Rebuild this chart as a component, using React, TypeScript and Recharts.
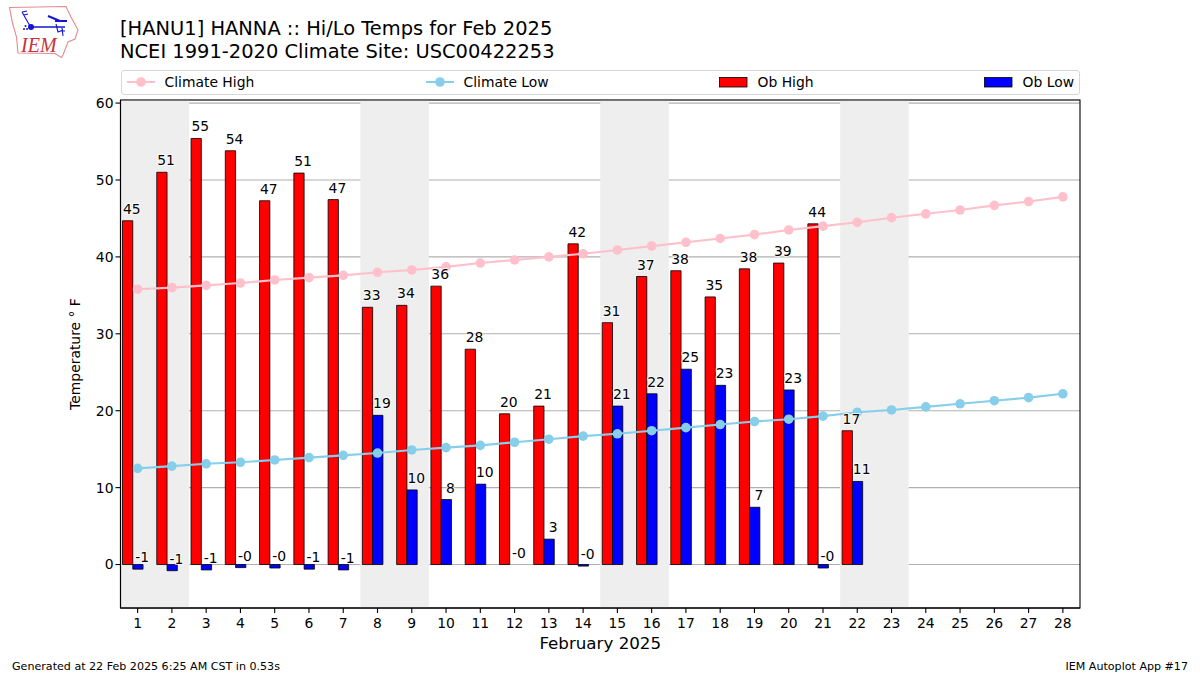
import React from "react";
import {
  ComposedChart, Bar, Line, XAxis, YAxis, CartesianGrid, ReferenceArea, LabelList, Rectangle, Label,
} from "recharts";

const FONT = "'DejaVu Sans', sans-serif";

const days = ["1","2","3","4","5","6","7","8","9","10","11","12","13","14","15","16","17","18","19","20","21","22","23","24","25","26","27","28"];
const climateHigh = [35.8,36.0,36.3,36.6,37.0,37.3,37.6,38.0,38.3,38.7,39.2,39.6,40.0,40.4,40.9,41.4,41.9,42.4,42.9,43.5,44.0,44.5,45.1,45.6,46.1,46.7,47.2,47.8];
const climateLow = [12.5,12.8,13.1,13.3,13.6,13.9,14.2,14.5,14.9,15.2,15.5,15.9,16.3,16.7,17.0,17.4,17.8,18.2,18.6,18.9,19.3,19.8,20.1,20.5,20.9,21.3,21.7,22.2];
const obHigh = [44.7,51.0,55.4,53.8,47.3,50.9,47.45,33.45,33.7,36.2,28.0,19.6,20.6,41.7,31.45,37.45,38.2,34.8,38.45,39.2,44.3,17.4];
const obLow = [-0.6,-0.8,-0.7,-0.4,-0.45,-0.6,-0.7,19.4,9.7,8.45,10.45,-0.01,3.3,-0.2,20.6,22.2,25.4,23.3,7.45,22.7,-0.45,10.8];
const weekends = [["1","2"],["8","9"],["15","16"],["22","23"]];
const yTicks = [0,10,20,30,40,50,60];
const yDomain = [-5.65, 60.4];
const legendItems = [
  { name: "Climate High", color: "#ffc0cb", kind: "line", left: 5 },
  { name: "Climate Low", color: "#87ceeb", kind: "line", left: 304 },
  { name: "Ob High", color: "#ff0000", kind: "bar", left: 597 },
  { name: "Ob Low", color: "#0000ff", kind: "bar", left: 862 },
];

const data = days.map((d, i) => ({
  day: d,
  climateHigh: climateHigh[i],
  climateLow: climateLow[i],
  obHigh: obHigh[i] ?? null,
  obLow: obLow[i] ?? null,
  spacer: null,
}));

const BarShape = (p: any) => {
  if (Math.abs(p.height) < 0.5) return <g />;
  return <Rectangle {...p} />;
};

const ValueLabel = (p: any) => {
  const { x, y, height, value } = p;
  if (value === null || value === undefined) return null;
  const edge = value < 0 ? Math.max(y, y + height) : Math.min(y, y + height);
  return (
    <text
      x={x + 9.3}
      y={edge - 7}
      textAnchor="middle"
      fontFamily={FONT}
      fontSize={13.9}
      fill="#000"
      stroke="#fff"
      strokeWidth={2}
      strokeOpacity={0.75}
      style={{ paintOrder: "stroke" }}
    >
      {Number(value).toFixed(0)}
    </text>
  );
};

const LegendBox = () => (
  <div style={{ position: "relative", width: 959, height: 25, boxSizing: "border-box", border: "1.1px solid #d6d6d6", borderRadius: 3, background: "#fff", fontFamily: FONT, fontSize: 13.9, color: "#000" }}>
    {legendItems.map((it) => (
      <div key={it.name} style={{ position: "absolute", left: it.left, top: 0, height: 23, whiteSpace: "nowrap" }}>
        <svg width={30} height={23} style={{ position: "absolute", left: 0, top: 0 }}>
          {it.kind === "line" ? (
            <g>
              <line x1={0} x2={28} y1={11} y2={11} stroke={it.color} strokeWidth={2} />
              <circle cx={14} cy={11} r={4.8} fill={it.color} />
            </g>
          ) : (
            <rect x={0.5} y={6.5} width={27.5} height={9.5} fill={it.color} stroke="#000" strokeWidth={0.8} />
          )}
        </svg>
        <span style={{ position: "absolute", left: it.kind === "bar" ? 39 : 38, top: 2.5, lineHeight: "17px" }}>{it.name}</span>
      </div>
    ))}
  </div>
);

const Logo = () => (
  <svg width={90} height={62} style={{ position: "absolute", left: 0, top: 0 }}>
    <path d="M9.5 7.5 L66 6.5 L71 17 L78 30 L75 39 L68 42 L63 55 L61.5 57.5 L55 53.5 L18 53 L16.5 37 L12.5 23 Z" fill="#fff" stroke="#e58a90" strokeWidth={1.1} />
    <g stroke="#1414d2" fill="none" strokeWidth={1.1}>
      <path d="M22 12 L30 26 M22 12 L27 11 M24 15 L28 14" />
      <path d="M31 27 L65 27" strokeWidth={1.5} />
      <path d="M48 16 L60 21 M55 21 L67 21" strokeWidth={2} />
      <path d="M56 24 L58 32 L63 30 M62 28 L63 36 M60 31 L65 31" />
    </g>
    <circle cx={31} cy={27} r={3} fill="#1414d2" />
    <circle cx={24} cy={29} r={1} fill="#1414d2" />
    <circle cx={27} cy={29} r={1} fill="#1414d2" />
    <circle cx={25.5} cy={26} r={1} fill="#1414d2" />
    <text x={21} y={52} fontFamily="'Liberation Serif', serif" fontStyle="italic" fontSize={20} fill="#c8323c">IEM</text>
  </svg>
);

export default function App() {
  return (
    <div style={{ position: "absolute", left: 0, top: 0, width: 1200, height: 675, background: "#fff", overflow: "hidden" }}>
      <Logo />
      <div style={{ position: "absolute", left: 120, top: 18, fontFamily: FONT, fontSize: 19.45, lineHeight: "22.5px", color: "#000", whiteSpace: "nowrap" }}>
        <div>[HANU1] HANNA :: Hi/Lo Temps for Feb 2025</div>
        <div>NCEI 1991-2020 Climate Site: USC00422253</div>
      </div>
      <ComposedChart
        width={1200}
        height={675}
        data={data}
        barSize={10.28}
        barGap={0}
        barCategoryGap={0}
        margin={{ top: 100, right: 120, bottom: 37, left: 60.5 }}
        style={{ position: "absolute", left: 0, top: 0 }}
      >
        {weekends.map(([a, b]) => (
          <ReferenceArea key={a} x1={a} x2={b} ifOverflow="visible" fill="#eeeeee" fillOpacity={1} stroke="none" />
        ))}
        <CartesianGrid vertical={false} stroke="#b0b0b0" strokeWidth={1.1} />
        <XAxis
          dataKey="day"
          interval={0}
          height={30}
          tickLine={{ stroke: "#000", strokeWidth: 1.1 }}
          axisLine={{ stroke: "#000", strokeWidth: 1.1 }}
          tickSize={5}
          tickMargin={5}
          tick={{ fontFamily: FONT, fontSize: 13.9, fill: "#000" }}
        >
          <Label value="February 2025" position="insideBottom" offset={-11} style={{ fontFamily: FONT, fontSize: 16.7, fill: "#000" }} />
        </XAxis>
        <YAxis
          domain={yDomain}
          ticks={yTicks}
          width={60}
          allowDataOverflow
          tickLine={{ stroke: "#000", strokeWidth: 1.1 }}
          axisLine={{ stroke: "#000", strokeWidth: 1.1 }}
          tickSize={5}
          tickMargin={2}
          tick={{ fontFamily: FONT, fontSize: 13.9, fill: "#000" }}
        >
          <Label value="Temperature ° F" angle={-90} position="center" dx={-15} style={{ fontFamily: FONT, fontSize: 13.9, fill: "#000", textAnchor: "middle" }} />
        </YAxis>
        <Bar dataKey="obHigh" name="Ob High" fill="#ff0000" stroke="#000" strokeWidth={0.8} isAnimationActive={false} shape={BarShape}>
          <LabelList dataKey="obHigh" content={ValueLabel} />
        </Bar>
        <Bar dataKey="obLow" name="Ob Low" fill="#0000ff" stroke="#000" strokeWidth={0.8} isAnimationActive={false} shape={BarShape}>
          <LabelList dataKey="obLow" content={ValueLabel} />
        </Bar>
        <Bar dataKey="spacer" legendType="none" fill="none" isAnimationActive={false} />
        <Line dataKey="climateHigh" name="Climate High" stroke="#ffc0cb" strokeWidth={2.1} dot={{ r: 4.8, fill: "#ffc0cb", stroke: "#ffc0cb", strokeWidth: 0 }} isAnimationActive={false} />
        <Line dataKey="climateLow" name="Climate Low" stroke="#87ceeb" strokeWidth={2.1} dot={{ r: 4.8, fill: "#87ceeb", stroke: "#87ceeb", strokeWidth: 0 }} isAnimationActive={false} />
        <ReferenceArea x1="1" x2="28" y1={yDomain[0]} y2={yDomain[1]} ifOverflow="visible" fill="none" stroke="#000" strokeWidth={1.1} />
      </ComposedChart>
      <div style={{ position: "absolute", left: 120.5, top: 70 }}>
        <LegendBox />
      </div>
      <div style={{ position: "absolute", left: 12, top: 660, fontFamily: FONT, fontSize: 11.1, lineHeight: "13px", color: "#000" }}>Generated at 22 Feb 2025 6:25 AM CST in 0.53s</div>
      <div style={{ position: "absolute", right: 12, top: 660, fontFamily: FONT, fontSize: 11.1, lineHeight: "13px", color: "#000" }}>IEM Autoplot App #17</div>
    </div>
  );
}
